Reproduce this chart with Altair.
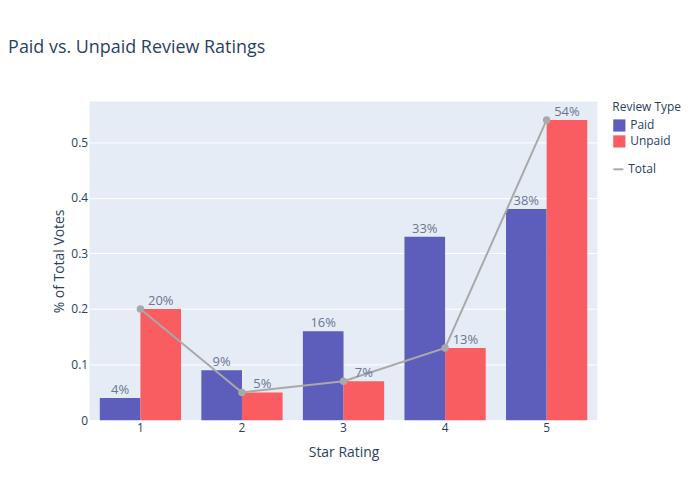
import altair as alt
import pandas as pd

ratings = ['1', '2', '3', '4', '5']
paid = [0.04, 0.09, 0.16, 0.33, 0.38]
unpaid = [0.20, 0.05, 0.07, 0.13, 0.54]
total = [0.20, 0.05, 0.07, 0.13, 0.54]

bars_df = pd.DataFrame({
    'rating': ratings * 2,
    'type': ['Paid'] * 5 + ['Unpaid'] * 5,
    'value': paid + unpaid,
})
line_df = pd.DataFrame({'rating': ratings, 'value': total, 'series': ['Total'] * 5})

font = 'Open Sans'
x_enc = alt.X('rating:N', title='Star Rating',
              scale=alt.Scale(paddingInner=0.2, paddingOuter=0.1),
              axis=alt.Axis(labelAngle=0, ticks=False, domain=False, grid=False,
                            labelColor='#2a3f5f', titleColor='#2a3f5f',
                            titleFontSize=14, titleFontWeight='normal', labelFontSize=12,
                            titlePadding=12))
y_scale = alt.Scale(domain=[0, 0.573], nice=False)

base = alt.Chart(bars_df)
bars = base.mark_bar().encode(
    x=x_enc,
    xOffset=alt.XOffset('type:N'),
    y=alt.Y('value:Q', title='% of Total Votes', scale=y_scale,
            axis=alt.Axis(values=[0, 0.1, 0.2, 0.3, 0.4, 0.5], ticks=False, domain=False,
                          gridColor='white', labelColor='#2a3f5f', titleColor='#2a3f5f',
                          titleFontSize=14, titleFontWeight='normal', labelFontSize=12,
                          labelExpr="datum.value == 0 ? '0' : format(datum.value, '.1f')")),
    color=alt.Color('type:N', title='Review Type',
                    scale=alt.Scale(domain=['Paid', 'Unpaid'], range=['#5d5dbb', '#f95d62']),
                    legend=alt.Legend(symbolType='square', symbolSize=150, orient='none',
                                      legendX=525, legendY=0, labelFontSize=12,
                                      titleFontSize=12, titleFontWeight='normal',
                                      titleColor='#2a3f5f', labelColor='#2a3f5f')),
)
labels = base.mark_text(dy=-8, color='#6b7690', fontSize=13).encode(
    x=alt.X('rating:N', scale=alt.Scale(paddingInner=0.2, paddingOuter=0.1)),
    xOffset=alt.XOffset('type:N'),
    y=alt.Y('value:Q', scale=y_scale),
    text=alt.Text('value:Q', format='.0%'),
)
line = alt.Chart(line_df).mark_line(point=alt.OverlayMarkDef(size=30, filled=True, color='#a9a9a9'),
                                    strokeWidth=2).encode(
    x=alt.X('rating:N'),
    y=alt.Y('value:Q', scale=y_scale),
    stroke=alt.Stroke('series:N', scale=alt.Scale(domain=['Total'], range=['#a9a9a9']),
                      legend=alt.Legend(title=None, symbolType='stroke', symbolStrokeWidth=2,
                                        orient='none', legendX=525, legendY=62,
                                        labelFontSize=12, labelColor='#2a3f5f')),
)

chart = alt.layer(bars, line, labels).resolve_scale(color='independent').properties(
    width=510, height=320,
    title=alt.TitleParams('Paid vs. Unpaid Review Ratings', anchor='start', fontSize=18,
                          fontWeight='normal', color='#2a3f5f', offset=45, dx=-45),
    padding={'left': 0, 'top': 30, 'right': 10, 'bottom': 10},
).configure(font=font).configure_view(fill='#e5ecf6', strokeWidth=0)

chart.save("out.html", embed_options={"renderer": "svg", "actions": False})
